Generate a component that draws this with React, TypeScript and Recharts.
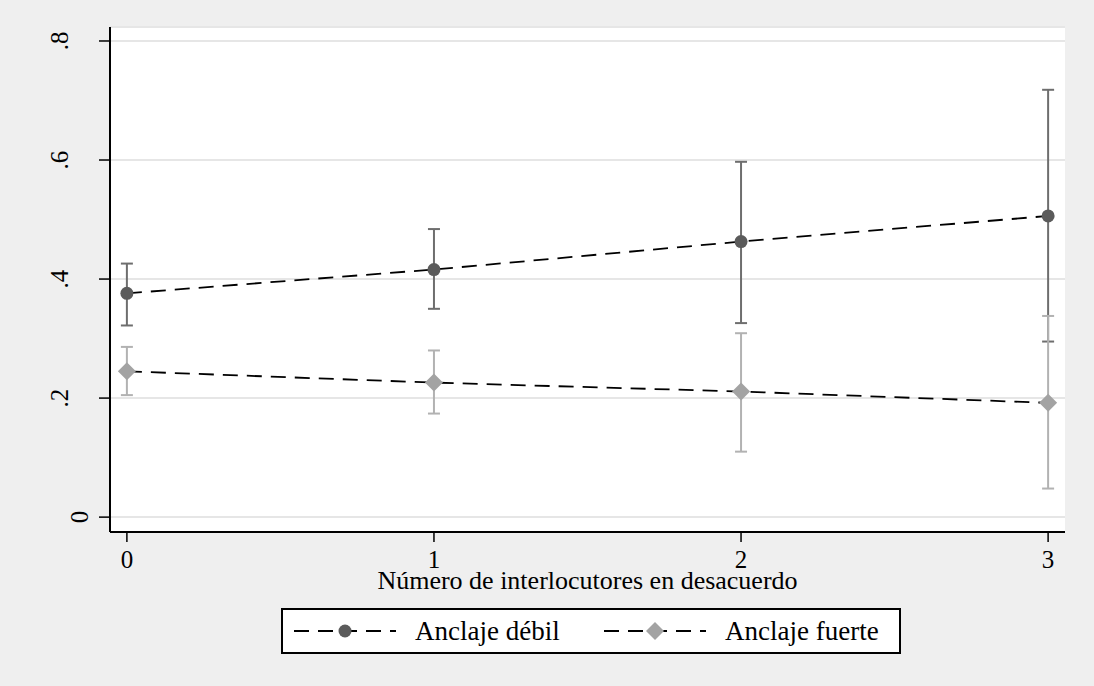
import { LineChart, Line, XAxis, YAxis, CartesianGrid, ErrorBar, Label } from "recharts";

const xs = [0, 1, 2, 3];
const debilMean = [0.376, 0.416, 0.463, 0.506];
const debilLow = [0.322, 0.35, 0.326, 0.295];
const debilHigh = [0.426, 0.484, 0.597, 0.718];
const fuerteMean = [0.245, 0.226, 0.211, 0.192];
const fuerteLow = [0.205, 0.174, 0.11, 0.048];
const fuerteHigh = [0.286, 0.28, 0.309, 0.338];
const yTicks = [0, 0.2, 0.4, 0.6, 0.8];
const yTickLabels = ["0", ".2", ".4", ".6", ".8"];

const FONT = '"Liberation Serif", "Times New Roman", serif';
const DEBIL_DOT = "#5b5b5b";
const DEBIL_CI = "#6e6e6e";
const FUERTE_DOT = "#a3a3a3";
const FUERTE_CI = "#b2b2b2";
const DASH = "15 9";

const rows = xs.map((x, i) => ({
  x,
  debil: debilMean[i],
  debilErr: [debilMean[i] - debilLow[i], debilHigh[i] - debilMean[i]],
  fuerte: fuerteMean[i],
  fuerteErr: [fuerteMean[i] - fuerteLow[i], fuerteHigh[i] - fuerteMean[i]],
}));

const CircleDot = (props: any) => {
  const { cx, cy } = props;
  if (cx == null || cy == null) return null;
  return <circle cx={cx} cy={cy} r={6.5} fill={DEBIL_DOT} />;
};

const DiamondDot = (props: any) => {
  const { cx, cy } = props;
  if (cx == null || cy == null) return null;
  const r = 9;
  return (
    <polygon
      points={`${cx},${cy - r} ${cx + r},${cy} ${cx},${cy + r} ${cx - r},${cy}`}
      fill={FUERTE_DOT}
    />
  );
};

const XTick = (props: any) => {
  const { x, y, payload } = props;
  return (
    <text x={x} y={y + 24} textAnchor="middle" fontSize={25} fontFamily={FONT} fill="#000">
      {payload.value}
    </text>
  );
};

const YTick = (props: any) => {
  const { y, payload } = props;
  const idx = yTicks.indexOf(payload.value);
  const label = yTickLabels[idx] ?? String(payload.value);
  // Stata sets the lone "0" a little closer to the axis
  const bx = label === "0" ? 88 : 68;
  return (
    <text
      x={bx}
      y={y}
      textAnchor="middle"
      fontSize={25}
      fontFamily={FONT}
      fill="#000"
      transform={`rotate(-90, ${bx}, ${y})`}
    >
      {label}
    </text>
  );
};

const Legend = () => (
  <svg
    width={1094}
    height={686}
    style={{ position: "absolute", left: 0, top: 0, pointerEvents: "none" }}
  >
    <rect x={282} y={609} width={618} height={44} fill="#fff" stroke="#000" strokeWidth={2} />
    <line x1={294} y1={631} x2={396} y2={631} stroke="#000" strokeWidth={1.8} strokeDasharray={DASH} />
    <circle cx={345} cy={631} r={6.5} fill={DEBIL_DOT} />
    <text x={415} y={640} fontSize={27} fontFamily={FONT} fill="#000">
      Anclaje débil
    </text>
    <line x1={604} y1={631} x2={706} y2={631} stroke="#000" strokeWidth={1.8} strokeDasharray={DASH} />
    <polygon points="655,622 664,631 655,640 646,631" fill={FUERTE_DOT} />
    <text x={725} y={640} fontSize={27} fontFamily={FONT} fill="#000">
      Anclaje fuerte
    </text>
  </svg>
);

export default function App() {
  return (
    <div
      style={{
        position: "absolute",
        left: 0,
        top: 0,
        width: 1094,
        height: 686,
        background: "#efefef",
        fontFamily: FONT,
      }}
    >
      <LineChart
        width={1094}
        height={686}
        data={rows}
        margin={{ top: 27, right: 29, bottom: 94, left: 0 }}
      >
        <CartesianGrid vertical={false} fill="#fff" stroke="#e6e6e6" strokeWidth={2} />
        <XAxis
          type="number"
          dataKey="x"
          domain={[-0.055, 3.055]}
          ticks={xs}
          allowDataOverflow
          height={60}
          axisLine={{ stroke: "#000", strokeWidth: 2 }}
          tickLine={{ stroke: "#000", strokeWidth: 1.5 }}
          tickSize={10}
          tick={<XTick />}
        >
          <Label
            content={(p: any) => {
              const vb = p.viewBox || { x: 110, y: 532, width: 955 };
              return (
                <text
                  x={vb.x + vb.width / 2}
                  y={vb.y + 57}
                  textAnchor="middle"
                  fontSize={26}
                  fontFamily={FONT}
                  fill="#000"
                >
                  Número de interlocutores en desacuerdo
                </text>
              );
            }}
          />
        </XAxis>
        <YAxis
          type="number"
          domain={[-0.025, 0.8235]}
          ticks={yTicks}
          allowDataOverflow
          width={110}
          axisLine={{ stroke: "#000", strokeWidth: 2 }}
          tickLine={{ stroke: "#000", strokeWidth: 1.5 }}
          tickSize={11}
          tick={<YTick />}
        />
        <Line
          dataKey="debil"
          stroke="#000"
          strokeWidth={1.8}
          strokeDasharray={DASH}
          dot={<CircleDot />}
          activeDot={false}
          isAnimationActive={false}
        >
          <ErrorBar dataKey="debilErr" direction="y" width={6} stroke={DEBIL_CI} strokeWidth={2} />
        </Line>
        <Line
          dataKey="fuerte"
          stroke="#000"
          strokeWidth={1.8}
          strokeDasharray={DASH}
          dot={<DiamondDot />}
          activeDot={false}
          isAnimationActive={false}
        >
          <ErrorBar dataKey="fuerteErr" direction="y" width={6} stroke={FUERTE_CI} strokeWidth={2} />
        </Line>
      </LineChart>
      <Legend />
    </div>
  );
}
